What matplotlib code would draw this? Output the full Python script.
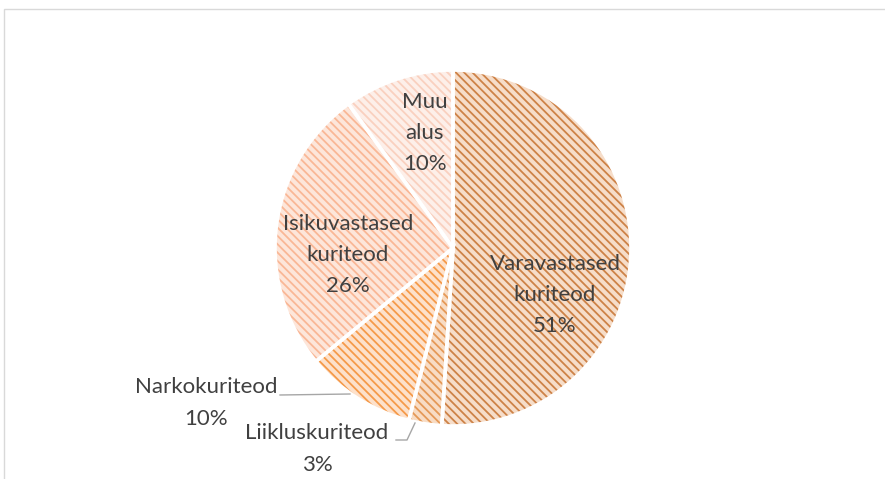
import matplotlib
matplotlib.use("Agg")
import matplotlib.pyplot as plt
from matplotlib.patches import Rectangle

# andmed
kategooriad = ["Varavastased\nkuriteod", "Liikluskuriteod", "Narkokuriteod",
               "Isikuvastased\nkuriteod", "Muu\nalus"]
osakaal = [51, 3, 10, 26, 10]
taust = ["#F6DDC9", "#F8DCC4", "#FDE1CB", "#FDE6DA", "#FDEFE9"]
triibud = ["#CD8247", "#E59957", "#F59A4A", "#F9B796", "#F9D0BF"]

plt.rcParams["font.family"] = ["Lato", "DejaVu Sans"]
plt.rcParams["hatch.linewidth"] = 1.3

W, H = 885, 479
fig = plt.figure(figsize=(W / 100, H / 100), dpi=100)
cx, cy, r = 453, 248, 178
ax = fig.add_axes([(cx - r) / W, (H - cy - r) / H, 2 * r / W, 2 * r / H])
ax.axis("off")

# raam
fig.patches.append(Rectangle((4 / W, -0.1), 1.2, 1 - 9 / H + 0.1, transform=fig.transFigure,
                             fill=False, edgecolor="#D9D9D9", linewidth=1))

wedges, _ = ax.pie(osakaal, startangle=90, counterclock=False, radius=1,
                   colors=taust, wedgeprops=dict(linewidth=0))
for w, c in zip(wedges, triibud):
    w.set_hatch("\\\\\\\\")
    w.set_edgecolor(c)

ax.pie(osakaal, startangle=90, counterclock=False, radius=1,
       wedgeprops=dict(facecolor="none", edgecolor="white", linewidth=2.6))
ax.set_xlim(-1, 1)
ax.set_ylim(-1, 1)
ax.set_aspect("equal")

def px(x, y):
    return ((x - cx) / r, (cy - y) / r)

tekst = dict(ha="center", va="center", fontsize=16, color="#404040", linespacing=1.7)
sildid = [px(555, 295), px(317, 449), px(206, 403), px(348, 255), px(425, 133)]
for nimi, v, pos in zip(kategooriad, osakaal, sildid):
    ax.text(pos[0], pos[1], f"{nimi}\n{v}%", clip_on=False, **tekst)

# juhtjooned
jc = "#A6A6A6"
a, b = px(280, 395), px(350, 394)
ax.plot([a[0], b[0]], [a[1], b[1]], color=jc, lw=1, clip_on=False)
a, b, c = px(396, 440), px(407, 440), px(415, 423)
ax.plot([a[0], b[0], c[0]], [a[1], b[1], c[1]], color=jc, lw=1, clip_on=False)

fig.savefig("out.png", dpi=100)
